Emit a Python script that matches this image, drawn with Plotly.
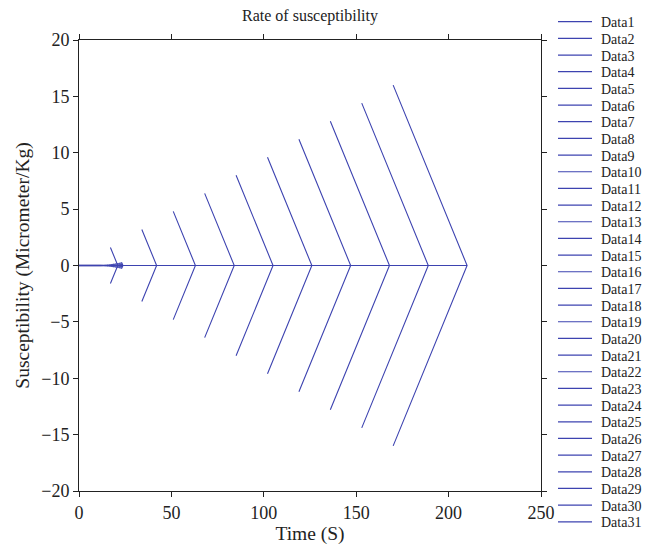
import plotly.graph_objects as go

# Chevron data: each series goes from (top_x, +h) to (tip_x, 0) to (top_x, -h), with a baseline from 0 to tip
small_tip = [11.8, 12.4, 13.0, 13.6, 14.2, 14.8, 15.4, 16.0, 16.6, 17.2, 17.8,
             18.4, 19.0, 19.6, 20.2, 20.8, 21.4, 22.0, 22.6, 23.2, 23.8]
small_top = [11.8, 12.4, 13.0, 13.6, 14.1, 14.7, 15.3, 15.8, 16.4, 17.0, 17.5,
             18.1, 18.6, 19.2, 19.7, 20.3, 20.8, 21.4, 21.9, 22.5, 23.0]
small_height = [0.02, 0.03, 0.04, 0.05, 0.06, 0.07, 0.08, 0.09, 0.10, 0.11, 0.12,
                0.13, 0.15, 0.16, 0.18, 0.19, 0.21, 0.23, 0.25, 0.27, 0.29]

big_tip = [21, 42, 63, 84, 105, 126, 147, 168, 189, 210]
big_top = [17, 34, 51, 68, 85, 102, 119, 136, 153, 170]
big_height = [1.6, 3.2, 4.8, 6.4, 8.0, 9.6, 11.2, 12.8, 14.4, 16.0]

tips = small_tip + big_tip
tops = small_top + big_top
heights = small_height + big_height
names = [f"Data{i}" for i in range(1, 32)]

x_ticks = [0, 50, 100, 150, 200, 250]
y_ticks = [-20, -15, -10, -5, 0, 5, 10, 15, 20]

COLOR = "#3d43b0"
FONT = "Liberation Serif"

fig = go.Figure()
for name, tp, tx, h in zip(names, tips, tops, heights):
    fig.add_trace(go.Scatter(
        x=[0, tp, None, tx, tp, tx],
        y=[0, 0, None, h, 0, -h],
        mode="lines", name=name,
        line=dict(color=COLOR, width=1.1),
        showlegend=False,
    ))

# page has an 8px body margin; figure sits at (8, 8)
OFF = 8
W, H = 660 - OFF, 548 - OFF
# plot area in window pixels
L, R, T, B = 79, 541, 40, 491
pw, ph = R - L, B - T

def px_x(p):
    return (p - L) / pw

def px_y(p):
    return (B - p) / ph

shapes = []
annotations = []
for i, name in enumerate(names):
    yy = 21.7 + i * 16.67
    shapes.append(dict(type="line", xref="paper", yref="paper",
                       x0=px_x(558), x1=px_x(592), y0=px_y(yy), y1=px_y(yy),
                       line=dict(color=COLOR, width=1.2)))
    annotations.append(dict(text=name, xref="paper", yref="paper",
                            x=px_x(599), y=px_y(yy + 1), xanchor="left", yanchor="middle",
                            showarrow=False, font=dict(family=FONT, size=14, color="#222")))

fig.update_layout(
    width=W, height=H,
    margin=dict(l=L - OFF, r=W - (R - OFF), t=T - OFF, b=H - (B - OFF), pad=0),
    paper_bgcolor="white", plot_bgcolor="white",
    title=dict(text="Rate of susceptibility", x=((L + R) / 2 - OFF) / W, xanchor="center",
               y=1 - (15 - OFF) / H, yanchor="middle",
               font=dict(family=FONT, size=16, color="#222")),
    font=dict(family=FONT, color="#222"),
    shapes=shapes, annotations=annotations,
    showlegend=False,
)
fig.update_xaxes(range=[0, 250], tickvals=x_ticks, showgrid=False, zeroline=False,
                 showline=True, linecolor="#222", linewidth=1, mirror="ticks",
                 ticks="outside", ticklen=5, tickcolor="#222",
                 tickfont=dict(family=FONT, size=18, color="#222"),
                 title=dict(text="Time (S)", font=dict(family=FONT, size=19.5, color="#222"), standoff=1))
fig.update_yaxes(range=[-20, 20], tickvals=y_ticks, showgrid=False, zeroline=False,
                 showline=True, linecolor="#222", linewidth=1, mirror="ticks",
                 ticks="outside", ticklen=5, tickcolor="#222",
                 tickfont=dict(family=FONT, size=18, color="#222"),
                 title=dict(text="Susceptibility (Micrometer/Kg)",
                            font=dict(family=FONT, size=19.5, color="#222"), standoff=6))

fig.write_html("out.html")
